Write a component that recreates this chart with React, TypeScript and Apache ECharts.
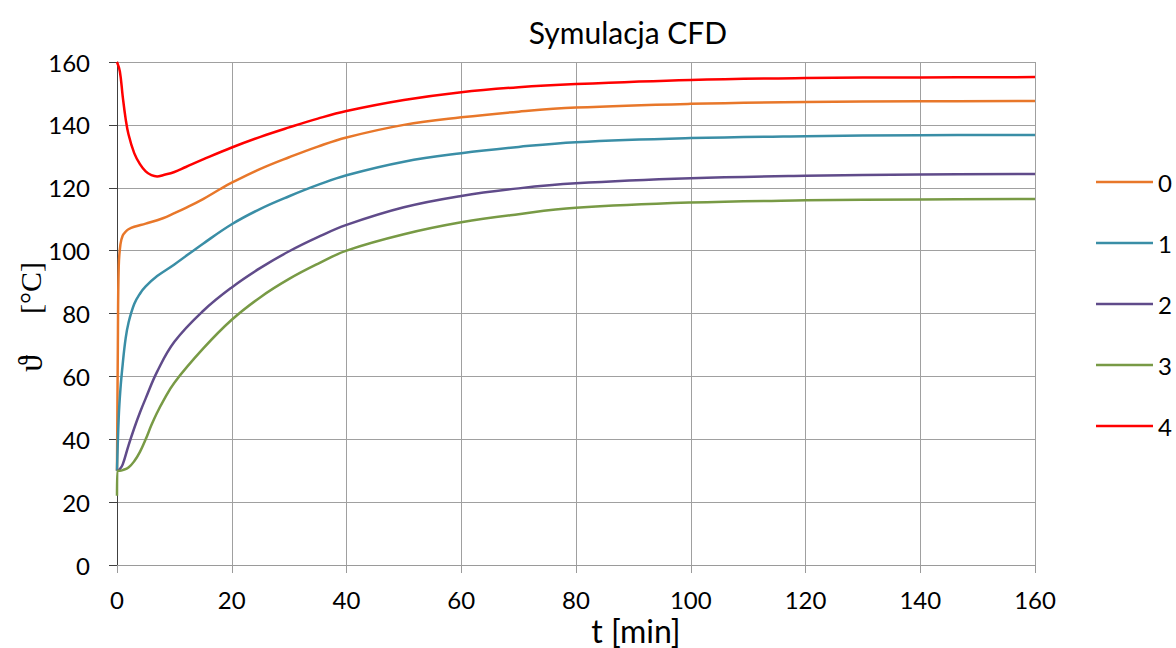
import React, { useEffect, useRef } from "react";
import * as echarts from "echarts";

const seriesNames = ["0", "1", "2", "3", "4"];
const colors = ["#E8772A", "#3A8EA6", "#604B8A", "#789A45", "#FF0000"];

const t0 = [0, 0.15, 0.3, 0.6, 1, 1.5, 2, 3, 5, 8, 10, 12, 15, 18, 20, 25, 30, 35, 40, 50, 60, 70, 80, 100, 120, 140, 160];
const v0 = [30, 70, 95, 102, 104.8, 106, 106.8, 107.6, 108.6, 110.3, 111.9, 113.6, 116.4, 119.6, 121.6, 126, 129.7, 133.1, 136, 140, 142.4, 144.2, 145.5, 146.7, 147.3, 147.5, 147.6];

const t1 = [0, 0.3, 0.6, 1, 1.5, 2, 3, 4, 5, 7, 10, 15, 20, 25, 30, 35, 40, 50, 60, 70, 80, 100, 120, 140, 160];
const v1 = [30, 47, 56, 64, 72, 77, 83, 86.3, 88.6, 91.9, 95.6, 102.2, 108.4, 113.3, 117.3, 120.9, 124, 128.3, 131, 133, 134.5, 135.8, 136.4, 136.7, 136.8];

const t2 = [0, 0.5, 1, 2, 3, 4, 5, 7, 10, 15, 20, 25, 30, 35, 40, 50, 60, 70, 80, 100, 120, 140, 160];
const v2 = [30, 30.5, 32, 38, 43.5, 48.5, 53, 61.5, 71, 80.8, 88.3, 94.5, 99.8, 104.3, 108.2, 113.8, 117.4, 119.8, 121.4, 123, 123.8, 124.2, 124.4];

const t3 = [0, 0.05, 0.5, 1, 2, 3, 4, 5, 6, 7, 8, 10, 15, 20, 25, 30, 35, 40, 50, 60, 70, 80, 100, 120, 140, 160];
const v3 = [22, 30, 30, 30.2, 31, 33, 36, 40, 44.5, 48.5, 52, 58, 68.8, 78, 85.2, 91, 95.8, 100, 105.2, 109, 111.6, 113.6, 115.3, 116, 116.3, 116.4];

const t4 = [0, 0.5, 1, 1.5, 2, 3, 4, 5, 6, 7, 8, 10, 12, 15, 20, 25, 30, 35, 40, 50, 60, 70, 80, 100, 120, 140, 160];
const v4 = [160, 157, 149, 142, 137, 131, 127.5, 125.2, 124, 123.6, 124.0, 125.0, 126.6, 129, 132.8, 136.2, 139.2, 142, 144.4, 147.9, 150.4, 152, 153, 154.3, 154.9, 155.1, 155.2];

const times = [t0, t1, t2, t3, t4];
const values = [v0, v1, v2, v3, v4];

const xTicks = { min: 0, max: 160, interval: 20 };
const yTicks = { min: 0, max: 160, interval: 20 };

const titleText = "Symulacja CFD";
const xName = "t [min]";
const yNameSymbol = "ϑ";
const yNameUnit = "[°C]";

const FONT = "Lato, 'Open Sans', 'Noto Sans', sans-serif";
const SERIF = "'Liberation Serif', 'DejaVu Serif', serif";

export default function App() {
  const ref = useRef<HTMLDivElement>(null);
  useEffect(() => {
    if (!ref.current) return;
    const chart = echarts.init(ref.current, undefined, { renderer: "svg" });
    const series = seriesNames.map((name, i) => ({
      name,
      type: "line",
      data: times[i].map((t, j) => [t, values[i][j]]),
      smooth: 0.4,
      symbol: "none",
      lineStyle: { color: colors[i], width: 2.5 },
      itemStyle: { color: colors[i] },
    }));
    chart.setOption({
      animation: false,
      backgroundColor: "#ffffff",
      grid: { left: 117, right: 141, top: 62, bottom: 83, outerBoundsMode: "none", containLabel: false },
      xAxis: {
        type: "value",
        ...xTicks,
        axisLine: { show: true, onZero: false, lineStyle: { color: "#9a9a9a", width: 1 } },
        axisTick: { show: true, length: 8, lineStyle: { color: "#9a9a9a" } },
        axisLabel: { fontSize: 24, color: "#000", fontFamily: FONT, margin: 22 },
        splitLine: { show: true, lineStyle: { color: "#a0a0a0", width: 1 } },
      },
      yAxis: {
        type: "value",
        ...yTicks,
        axisLine: { show: true, lineStyle: { color: "#404040", width: 1 } },
        axisTick: { show: true, length: 8, lineStyle: { color: "#404040" } },
        axisLabel: { fontSize: 24, color: "#000", fontFamily: FONT, margin: 27 },
        splitLine: { show: true, lineStyle: { color: "#a0a0a0", width: 1 } },
      },
      legend: {
        orient: "vertical",
        left: 1096,
        top: 170,
        padding: 0,
        icon: "rect",
        itemWidth: 57,
        itemHeight: 2.5,
        itemGap: 37,
        data: seriesNames,
        textStyle: { fontSize: 24, color: "#000", fontFamily: FONT, lineHeight: 24 },
      },
      graphic: [
        {
          type: "text",
          x: 628,
          y: 32,
          style: { text: titleText, fontSize: 30, fontFamily: FONT, fill: "#000", align: "center", verticalAlign: "middle" },
        },
        {
          type: "text",
          x: 636,
          y: 630,
          style: { text: xName, fontSize: 32, fontFamily: FONT, fill: "#000", align: "center", verticalAlign: "middle" },
        },
        {
          type: "text",
          x: 30,
          y: 317,
          rotation: Math.PI / 2,
          style: {
            text: "{a|" + yNameSymbol + "}{b|" + yNameUnit + "}",
            fill: "#000",
            align: "center",
            verticalAlign: "middle",
            rich: {
              a: { fontSize: 34, fontFamily: SERIF, fill: "#000", width: 58, align: "left" },
              b: { fontSize: 30, fontFamily: SERIF, fill: "#000" },
            },
          },
        },
      ],
      series,
    });
    return () => chart.dispose();
  }, []);
  return (
    <div
      ref={ref}
      style={{ position: "fixed", left: 0, top: 0, width: 1176, height: 648, background: "#fff" }}
    />
  );
}
